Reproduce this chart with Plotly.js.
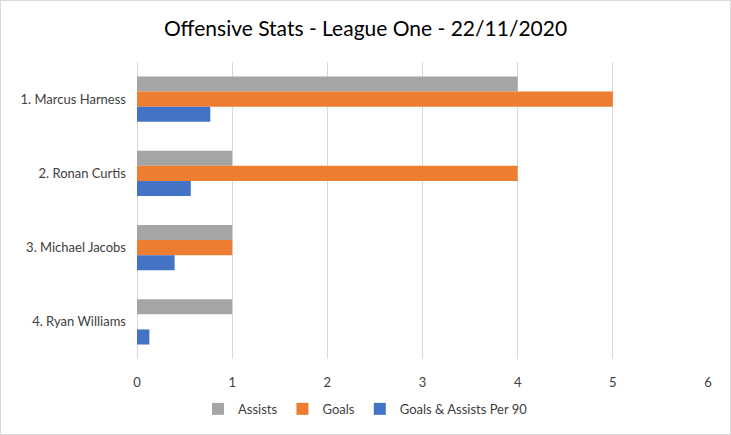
<!DOCTYPE html>
<html>
<head>
<meta charset="utf-8">
<script src="https://cdn.plot.ly/plotly-3.0.1.min.js"></script>
<style>
html,body{margin:0;padding:0;background:#fff;}
#chart{width:729px;height:433px;border:1px solid #d9d9d9;}
</style>
</head>
<body>
<div id="chart"></div>
<script>
const players = ["1. Marcus Harness", "2. Ronan Curtis", "3. Michael Jacobs", "4. Ryan Williams"];
const assists = [4, 1, 1, 1];
const goals = [5, 4, 1, 0];
const perNinety = [0.77, 0.565, 0.395, 0.13];
const xTicks = [0, 1, 2, 3, 4, 5, 6];

const font = "Lato, 'Open Sans', sans-serif";
const traces = [
  {name: "Assists", x: assists, y: players, color: "#a5a5a5"},
  {name: "Goals", x: goals, y: players, color: "#ed7d31"},
  {name: "Goals & Assists Per 90", x: perNinety, y: players, color: "#4472c4"}
].map(t => ({
  type: "bar", orientation: "h", name: t.name, x: t.x, y: t.y,
  marker: {color: t.color}, hoverinfo: "x+name"
}));

const layout = {
  width: 729, height: 433,
  margin: {l: 136, r: 22, t: 61, b: 75, autoexpand: false},
  paper_bgcolor: "#fff", plot_bgcolor: "#fff",
  font: {family: font, color: "#404040", size: 13},
  title: {text: "Offensive Stats - League One - 22/11/2020", font: {family: font, size: 21, color: "#000"}, x: 0.5, xanchor: "center", y: 0.935, yanchor: "middle"},
  barmode: "group", bargap: 0.39, bargroupgap: 0,
  xaxis: {range: [0, 6], tickvals: xTicks, showgrid: true, gridcolor: "#d9d9d9", gridwidth: 1, zeroline: true, zerolinecolor: "#d9d9d9", showline: false, ticks: "", ticklabelstandoff: 14, tickfont: {size: 13, color: "#404040"}, fixedrange: true, automargin: false},
  yaxis: {autorange: "reversed", showgrid: false, zeroline: false, showline: false, ticks: "", ticklabelstandoff: 10, tickfont: {size: 13, color: "#404040"}, fixedrange: true, automargin: false},
  legend: {orientation: "h", x: 0.5, xref: "container", xanchor: "center", y: 0.058, yref: "container", yanchor: "middle", font: {size: 13, color: "#404040"}, itemwidth: 30, traceorder: "normal"},
  showlegend: true
};

Plotly.newPlot("chart", traces, layout, {displayModeBar: false, staticPlot: true});
</script>
</body>
</html>
